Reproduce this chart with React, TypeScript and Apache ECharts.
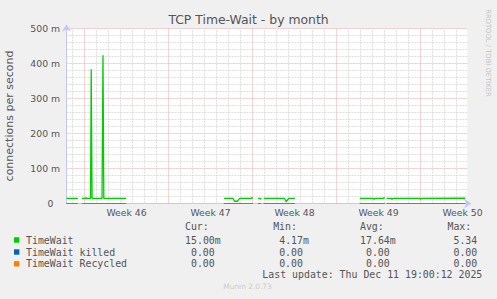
import { useEffect, useRef } from "react";
import * as echarts from "echarts";

// ---- texts ----
const TITLE = "TCP Time-Wait - by month";
const Y_NAME = "connections per second";
const SIDE_TEXT = "RRDTOOL / TOBI OETIKER";
const FOOTER = "Munin 2.0.73";
const LAST_UPDATE = "Last update: Thu Dec 11 19:00:12 2025";

// ---- axes (x in days since start of week 46) ----
const X_MIN = -1.5;
const X_MAX = 31.9;
const Y_MAX = 500; // milli-connections per second
const Y_STEP = 100;
const weekStarts = [0, 7, 14, 21, 28];
const weekCenters = [3.5, 10.5, 17.5, 24.5, 31.5];
const weekLabels = ["Week 46", "Week 47", "Week 48", "Week 49", "Week 50"];
const dayLines = [-1, 1, 2, 3, 4, 5, 6, 8, 9, 10, 11, 12, 13, 15, 16, 17, 18, 19, 20, 22, 23, 24, 25, 26, 27, 29, 30, 31];

// ---- series: TimeWait (m/s), null = no data ----
const twTimes = [
  -1.5, -0.55, -0.41,
  -0.22, 0.08, 0.14, 0.2, 0.5, 0.56, 0.63, 1.46, 1.54, 1.61, 3.47, 3.6,
  11.62, 12.37, 12.51, 12.73, 12.93, 13.89, 13.98, 14.03, 14.2,
  14.45, 14.64, 14.68, 14.73, 14.83,
  14.93, 16.67, 16.81, 17.01, 17.53, 17.7,
  22.94, 24.06, 24.13, 24.2, 24.9, 24.96, 25.02, 25.08,
  25.18, 25.55, 25.62, 25.7, 27.95, 28.01, 28.08, 31.73,
];
const twValues = [
  14.5, 14.5, null,
  14.5, 14.5, 16.5, 14.5, 14.5, 383.5, 14.5, 14.5, 423.5, 14.5, 14.5, null,
  14.5, 14.5, 6.5, 6.5, 14.5, 14.5, 17, 14.5, null,
  14.5, 14.5, 12, 14.5, null,
  14.5, 14.5, 5, 14.5, 14.5, null,
  14.5, 14.5, 12, 14.5, 14.5, 17, 14.5, null,
  14.5, 14.5, 12, 14.5, 14.5, 12, 14.5, 15,
];
// TimeWait killed / Recycled: zero where data exists
const zeroTimes = [-1.5, -0.55, -0.41, -0.22, 3.47, 3.6, 11.62, 14.03, 14.2, 14.45, 14.73, 14.83, 14.93, 17.53, 17.7, 22.94, 25.02, 25.08, 25.18, 31.73];
const killedValues = [0, 0, null, 0, 0, null, 0, 0, null, 0, 0, null, 0, 0, null, 0, 0, null, 0, 0];
const recycledValues = [0, 0, null, 0, 0, null, 0, 0, null, 0, 0, null, 0, 0, null, 0, 0, null, 0, 0];

// ---- legend ----
const seriesNames = ["TimeWait", "TimeWait killed", "TimeWait Recycled"];
const seriesColors = ["#00cc00", "#0066b3", "#ff8000"];
const statHeaders = ["Cur:", "Min:", "Avg:", "Max:"];
const curStats = ["15.00m", "0.00", "0.00"];
const minStats = ["4.17m", "0.00", "0.00"];
const avgStats = ["17.64m", "0.00", "0.00"];
const maxStats = ["5.34", "0.00", "0.00"];

// ---- layout ----
const W = 497;
const H = 299;
const PLOT_L = 66.5;
const PLOT_R = 467.3;
const PLOT_T = 28.5;
const PLOT_B = 203.5;
const TEXT = "#555555";
const MONO = "'DejaVu Sans Mono', monospace";
const SANS = "'DejaVu Sans', sans-serif";
const CW = 5.96;
const colStarts = [179, 267.2, 354, 441.5];
const rowY = [240, 252, 263.8];
const headerY = 226.8;

function buildGraphics() {
  const els: any[] = [];
  els.push({
    type: "text", x: W / 2, y: 19,
    style: { text: TITLE, align: "center", verticalAlign: "middle", fontSize: 12.4, fontFamily: SANS, fill: TEXT },
  });
  els.push({
    type: "text", x: 488, y: 53, rotation: -Math.PI / 2,
    style: { text: SIDE_TEXT, align: "center", verticalAlign: "middle", fontSize: 6.8, fontFamily: SANS, fill: "#c4c4c4" },
  });
  els.push({
    type: "text", x: 247.5, y: 286,
    style: { text: FOOTER, align: "center", verticalAlign: "middle", fontSize: 7.4, fontFamily: SANS, fill: "#cccccc" },
  });
  statHeaders.forEach((h, c) => {
    els.push({
      type: "text", x: colStarts[c] + CW, y: headerY,
      style: { text: h, align: "left", verticalAlign: "middle", fontSize: 9.9, fontFamily: MONO, fill: TEXT },
    });
  });
  const cols = [curStats, minStats, avgStats, maxStats];
  seriesNames.forEach((name, r) => {
    els.push({
      type: "rect", shape: { x: 14, y: rowY[r] - 2.7, width: 5.4, height: 5.4 },
      style: { fill: seriesColors[r] },
    });
    els.push({
      type: "text", x: 26, y: rowY[r],
      style: { text: name, align: "left", verticalAlign: "middle", fontSize: 9.9, fontFamily: MONO, fill: TEXT },
    });
    cols.forEach((col, c) => {
      const s = col[r];
      const hasUnit = /[a-zA-Z]$/.test(s);
      const right = colStarts[c] + 7 * CW - (hasUnit ? 0 : CW);
      els.push({
        type: "text", x: right, y: rowY[r],
        style: { text: s, align: "right", verticalAlign: "middle", fontSize: 9.9, fontFamily: MONO, fill: TEXT },
      });
    });
  });
  els.push({
    type: "text", x: 482.3, y: 274.5,
    style: { text: LAST_UPDATE, align: "right", verticalAlign: "middle", fontSize: 9.9, fontFamily: MONO, fill: TEXT },
  });
  return els;
}

export default function App() {
  const ref = useRef<HTMLDivElement>(null);
  useEffect(() => {
    if (!ref.current) return;
    const chart = echarts.init(ref.current, undefined, { renderer: "svg", width: W, height: H });
    const minorStyle = { color: "#dedede", type: [2, 1] as any, width: 1 };
    const majorStyle = { color: "#efaaaa", type: [1, 1] as any, width: 1 };
    const axisColor = "#c4c8f2";
    chart.setOption({
      animation: false,
      backgroundColor: "#f0f0f0",
      grid: {
        left: PLOT_L, top: PLOT_T, right: W - PLOT_R, bottom: H - PLOT_B,
        show: true, backgroundColor: "#ffffff", borderWidth: 0,
        containLabel: false, outerBoundsMode: "none",
      },
      graphic: buildGraphics(),
      xAxis: {
        type: "value", min: X_MIN, max: X_MAX,
        axisLine: {
          show: true, onZero: false, lineStyle: { color: axisColor, width: 1 },
          symbol: ["none", "arrow"], symbolSize: [7, 7], symbolOffset: [0, 4],
        },
        axisTick: { show: false },
        splitLine: { show: false },
        axisLabel: {
          customValues: weekCenters,
          formatter: (v: number) => {
            const i = weekCenters.findIndex((c) => Math.abs(c - v) < 1e-6);
            return i >= 0 ? weekLabels[i] : "";
          },
          color: TEXT, fontSize: 9.3, fontFamily: SANS, margin: 4,
        },
      },
      yAxis: {
        type: "value", min: 0, max: Y_MAX, interval: Y_STEP,
        name: Y_NAME, nameLocation: "middle", nameGap: 52,
        nameTextStyle: { color: TEXT, fontSize: 11, fontFamily: SANS },
        axisLine: {
          show: true, onZero: false, lineStyle: { color: axisColor, width: 1 },
          symbol: ["none", "arrow"], symbolSize: [7, 7], symbolOffset: [0, 4],
        },
        axisTick: { show: false },
        axisLabel: {
          formatter: (v: number) => (v === 0 ? "{z|0}" : `${v} m`),
          color: TEXT, fontSize: 9.3, fontFamily: SANS, margin: 6.4,
          rich: { z: { color: TEXT, fontSize: 9.3, fontFamily: SANS, padding: [0, 6.7, 0, 0] } },
        },
        splitLine: { show: true, lineStyle: majorStyle },
        minorTick: { show: false, splitNumber: 5 },
        minorSplitLine: { show: true, lineStyle: minorStyle },
      },
      series: [
        {
          type: "line", data: [], z: 1, silent: true,
          markLine: {
            silent: true, z: 1, animation: false, symbol: ["none", "none"],
            label: { show: false },
            emphasis: { disabled: true },
            data: [
              ...dayLines.map((d) => ({ xAxis: d, lineStyle: minorStyle })),
              ...weekStarts.map((d) => ({ xAxis: d, lineStyle: majorStyle })),
            ],
          },
        },
        {
          name: seriesNames[0], type: "line", z: 5,
          data: twTimes.map((t, i) => [t, twValues[i]]),
          showSymbol: false, symbol: "none", connectNulls: false,
          lineStyle: { color: seriesColors[0], width: 1.3 },
          itemStyle: { color: seriesColors[0] },
        },
        {
          name: seriesNames[1], type: "line", z: 6, clip: false,
          data: zeroTimes.map((t, i) => [t, killedValues[i]]),
          showSymbol: false, symbol: "none", connectNulls: false,
          lineStyle: { color: seriesColors[1], width: 1 },
        },
        {
          name: seriesNames[2], type: "line", z: 7, clip: false,
          data: zeroTimes.map((t, i) => [t, recycledValues[i]]),
          showSymbol: false, symbol: "none", connectNulls: false,
          lineStyle: { color: seriesColors[2], width: 1, opacity: 0.6 },
        },
      ],
    });
    return () => chart.dispose();
  }, []);
  return (
    <div
      ref={ref}
      style={{ position: "fixed", left: 0, top: 0, width: W, height: H, background: "#f0f0f0" }}
    />
  );
}
